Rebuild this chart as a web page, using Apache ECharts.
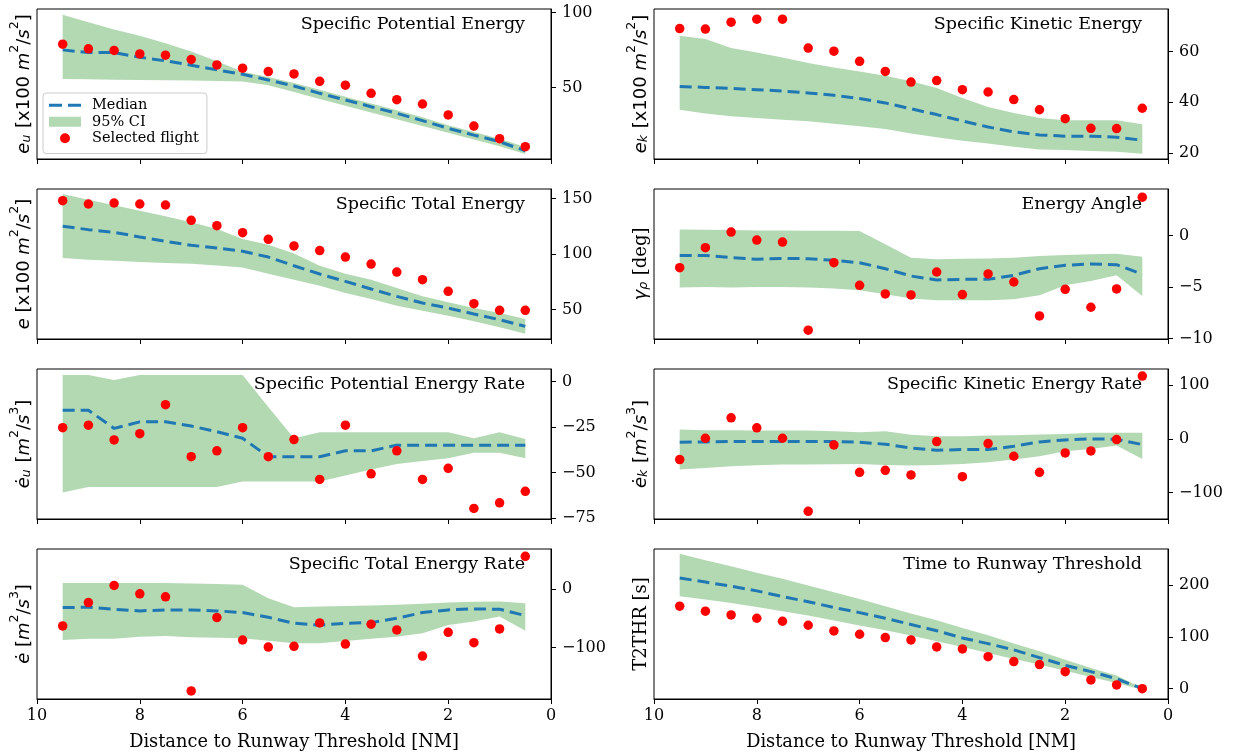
<!DOCTYPE html>
<html>
<head>
<meta charset="utf-8">
<script src="https://cdn.jsdelivr.net/npm/echarts@6/dist/echarts.min.js"></script>
<style>
  html, body { margin: 0; padding: 0; background: #fff; }
  #chart { width: 1240px; height: 756px; }
</style>
</head>
<body>
<div id="chart"></div>
<script>
// Distance to runway threshold [NM] at which every quantity is sampled
const distance = [9.5, 9, 8.5, 8, 7.5, 7, 6.5, 6, 5.5, 5, 4.5, 4, 3.5, 3, 2.5, 2, 1.5, 1, 0.5];

// Specific potential energy [x100 m^2/s^2]
const potMedian = [75.1, 73.3, 73.3, 70.2, 67.8, 64.9, 61.8, 58.9, 55.1, 51.1, 46.2, 41.8, 37.3, 32.9, 28.0, 22.9, 18.4, 14.0, 8.0];
const potLower  = [55.8, 55.6, 55.3, 55.1, 54.9, 54.7, 54.4, 54.0, 51.5, 47.0, 42.5, 38.0, 33.5, 29.0, 24.5, 20.0, 15.5, 11.0, 5.8];
const potUpper  = [98.4, 93.5, 88.7, 84.5, 79.5, 74.0, 67.5, 60.5, 57.0, 53.0, 48.5, 44.0, 39.5, 35.0, 30.2, 25.0, 20.5, 16.0, 10.5];
const potFlight = [78.9, 75.8, 74.7, 72.4, 71.6, 68.7, 65.1, 62.9, 60.7, 59.1, 54.2, 51.6, 46.2, 42.0, 39.1, 31.8, 24.4, 16.0, 10.7];
const potTicks  = [50, 100];

// Specific kinetic energy [x100 m^2/s^2]
const kinMedian = [46.2, 45.8, 45.4, 44.9, 44.4, 43.6, 42.7, 41.4, 39.7, 37.4, 35.1, 32.6, 30.2, 28.3, 27.1, 26.6, 26.6, 26.2, 25.0];
const kinLower  = [37.0, 35.5, 34.4, 33.8, 33.1, 32.5, 31.5, 30.5, 29.4, 27.6, 26.2, 24.8, 23.7, 22.4, 21.3, 21.1, 20.8, 20.5, 19.7];
const kinUpper  = [66.2, 64.9, 61.3, 59.6, 57.6, 55.4, 53.7, 52.1, 50.4, 48.2, 45.6, 41.6, 38.1, 35.7, 33.8, 32.9, 32.9, 32.9, 31.3];
const kinFlight = [69.0, 68.8, 71.5, 72.7, 72.7, 61.3, 60.1, 56.1, 52.1, 47.9, 48.5, 44.9, 44.0, 41.0, 37.0, 33.5, 29.7, 29.6, 37.6];
const kinTicks  = [20, 40, 60];

// Specific total energy [x100 m^2/s^2]
const totMedian = [125.1, 122.1, 119.7, 115.5, 111.6, 108.0, 105.6, 102.6, 97.4, 89.6, 82.1, 75.5, 68.6, 62.0, 56.0, 51.5, 46.1, 41.0, 35.0];
const totLower  = [96.5, 95.0, 94.1, 92.9, 92.0, 91.4, 89.9, 88.1, 82.4, 77.0, 71.6, 65.0, 59.6, 53.6, 49.1, 44.6, 39.5, 34.1, 28.4];
const totUpper  = [154.2, 149.1, 144.0, 139.2, 134.1, 128.7, 122.7, 113.7, 108.6, 100.5, 89.6, 82.4, 77.0, 69.5, 62.0, 56.6, 51.5, 47.0, 41.6];
const totFlight = [148.2, 145.2, 146.1, 145.2, 144.3, 130.5, 125.7, 119.4, 113.4, 107.4, 103.2, 97.4, 91.1, 83.9, 77.0, 66.5, 55.4, 49.4, 49.4];
const totTicks  = [50, 100, 150];

// Energy angle [deg]
const angMedian = [-1.94, -1.94, -2.16, -2.32, -2.23, -2.26, -2.42, -2.65, -3.23, -3.94, -4.32, -4.26, -4.26, -3.87, -3.23, -2.90, -2.77, -2.84, -3.77];
const angLower  = [-5.06, -5.0, -5.06, -5.0, -5.0, -5.06, -5.16, -5.32, -5.71, -6.13, -6.29, -6.29, -6.29, -6.19, -5.81, -4.84, -4.42, -3.87, -5.87];
const angUpper  = [0.58, 0.55, 0.52, 0.48, 0.48, 0.45, 0.45, 0.42, -0.87, -2.16, -2.32, -2.26, -2.23, -2.16, -2.0, -1.90, -1.84, -1.77, -2.06];
const angFlight = [-3.13, -1.19, 0.32, -0.45, -0.65, -9.19, -2.65, -4.84, -5.68, -5.77, -3.55, -5.74, -3.74, -4.52, -7.81, -5.23, -6.97, -5.19, 3.71];
const angTicks  = [-10, -5, 0];

// Specific potential energy rate [m^2/s^3]
const potRateMedian = [-15.7, -15.7, -25.7, -22.1, -22.1, -24.4, -27.5, -31.1, -41.2, -41.2, -41.2, -38.0, -38.0, -34.9, -34.9, -34.9, -34.9, -34.9, -34.9];
const potRateLower  = [-60.9, -57.9, -57.9, -57.9, -57.9, -57.9, -57.9, -54.8, -54.8, -54.8, -54.8, -51.5, -48.3, -45.2, -43.6, -42.1, -39.1, -39.1, -42.1];
const potRateUpper  = [3.6, 3.6, 0.9, 3.6, 3.6, 3.6, 3.6, 3.6, -13.9, -31.1, -27.8, -27.8, -27.8, -27.8, -27.8, -27.8, -31.1, -27.8, -31.5];
const potRateFlight = [-25.3, -23.9, -32.0, -28.6, -12.7, -41.2, -38.0, -25.3, -41.2, -31.8, -53.7, -23.9, -50.6, -38.0, -53.7, -47.6, -69.6, -66.5, -60.2];
const potRateTicks  = [-75, -50, -25, 0];

// Specific kinetic energy rate [m^2/s^3]
const kinRateMedian = [-6.2, -5.6, -5.0, -5.0, -5.0, -5.0, -5.0, -6.2, -9.9, -16.8, -21.1, -19.9, -19.9, -13.7, -5.6, -1.9, 0.0, -0.6, -10.6];
const kinRateLower  = [-57.1, -54.0, -50.9, -49.1, -47.8, -47.8, -47.2, -46.6, -48.4, -49.7, -48.4, -46.6, -43.5, -38.5, -32.3, -23.0, -18.6, -12.4, -37.3];
const kinRateUpper  = [17.4, 16.1, 16.1, 15.5, 15.5, 15.5, 14.3, 12.4, 14.3, 7.5, 5.0, 5.0, 6.2, 6.8, 8.1, 9.3, 11.2, 11.2, 11.2];
const kinRateFlight = [-38.5, 1.2, 39.1, 20.5, 1.2, -134.8, -11.2, -62.1, -58.4, -67.1, -5.0, -70.2, -8.7, -32.3, -62.1, -26.1, -22.4, -1.2, 116.8];
const kinRateTicks  = [-100, 0, 100];

// Specific total energy rate [m^2/s^3]
const totRateMedian = [-31.8, -31.3, -34.7, -37.5, -35.8, -35.8, -37.5, -40.3, -48.3, -58.5, -61.9, -58.5, -57.4, -50.0, -40.3, -35.8, -34.1, -34.7, -45.5];
const totRateLower  = [-86.9, -84.7, -84.7, -81.3, -80.1, -82.4, -83.0, -84.1, -88.1, -92.6, -92.6, -88.6, -84.7, -81.3, -75.6, -61.4, -55.7, -47.2, -71.0];
const totRateUpper  = [9.7, 9.7, 9.7, 9.7, 9.7, 9.1, 8.0, 6.8, -15.9, -31.3, -30.1, -29.0, -28.4, -27.3, -25.6, -23.3, -22.2, -21.6, -24.4];
const totRateFlight = [-63.1, -23.3, 5.7, -8.5, -13.6, -173.3, -48.9, -86.9, -98.9, -97.7, -58.0, -93.8, -60.2, -69.9, -114.2, -73.9, -91.5, -68.2, 55.1];
const totRateTicks  = [-100, 0];

// Time to runway threshold [s]
const timeMedian = [214, 206, 198, 189, 178, 168, 157, 147, 136, 124, 112, 98, 87, 75, 60, 45, 33, 19, 0];
const timeLower  = [178.7, 172.3, 165.8, 158.1, 149.7, 141.3, 131.6, 121.9, 112.9, 102.6, 91.6, 80.6, 69.0, 57.4, 46.5, 34.8, 22.6, 11.0, -1.9];
const timeUpper  = [260.6, 248.4, 236.8, 223.9, 212.3, 199.4, 186.5, 173.5, 159.4, 145.2, 132.3, 117.4, 103.2, 87.1, 72.3, 56.1, 40.0, 25.2, 1.3];
const timeFlight = [159.4, 149.7, 142.6, 136.1, 130.3, 122.6, 111.6, 105.2, 98.7, 94.2, 80.6, 76.8, 61.9, 52.3, 46.5, 32.9, 16.8, 7.1, 0];
const timeTicks  = [0, 100, 200];

const xTicks = [10, 8, 6, 4, 2, 0];
const xLabel = 'Distance to Runway Threshold [NM]';

// Panels in reading order (row by row, left column first)
const panels = [
  { title: 'Specific Potential Energy', ylabel: '{m|e}{sub|u}{r| [x100 }{m|m}{sup|2}{r|/}{m|s}{sup|2}{r|]}',
    median: potMedian, lower: potLower, upper: potUpper, flight: potFlight, ticks: potTicks, range: [2.5, 102.3] },
  { title: 'Specific Kinetic Energy', ylabel: '{m|e}{sub|k}{r| [x100 }{m|m}{sup|2}{r|/}{m|s}{sup|2}{r|]}',
    median: kinMedian, lower: kinLower, upper: kinUpper, flight: kinFlight, ticks: kinTicks, range: [17.6, 76.7] },
  { title: 'Specific Total Energy', ylabel: '{m|e}{r| [x100 }{m|m}{sup|2}{r|/}{m|s}{sup|2}{r|]}',
    median: totMedian, lower: totLower, upper: totUpper, flight: totFlight, ticks: totTicks, range: [23.6, 158.7] },
  { title: 'Energy Angle', ylabel: '{m|γ}{sub|ρ}{s| [deg]}',
    median: angMedian, lower: angLower, upper: angUpper, flight: angFlight, ticks: angTicks, range: [-10.05, 4.5] },
  { title: 'Specific Potential Energy Rate', ylabel: '{m|ė}{sub|u}{r| [}{m|m}{sup|2}{r|/}{m|s}{sup|3}{r|]}',
    median: potRateMedian, lower: potRateLower, upper: potRateUpper, flight: potRateFlight, ticks: potRateTicks, range: [-75.4, 6.9] },
  { title: 'Specific Kinetic Energy Rate', ylabel: '{m|ė}{sub|k}{r| [}{m|m}{sup|2}{r|/}{m|s}{sup|3}{r|]}',
    median: kinRateMedian, lower: kinRateLower, upper: kinRateUpper, flight: kinRateFlight, ticks: kinRateTicks, range: [-149, 130] },
  { title: 'Specific Total Energy Rate', ylabel: '{m|ė}{r| [}{m|m}{sup|2}{r|/}{m|s}{sup|3}{r|]}',
    median: totRateMedian, lower: totRateLower, upper: totRateUpper, flight: totRateFlight, ticks: totRateTicks, range: [-187, 67.5] },
  { title: 'Time to Runway Threshold', ylabel: '{s|T2THR [s]}',
    median: timeMedian, lower: timeLower, upper: timeUpper, flight: timeFlight, ticks: timeTicks, range: [-20, 270] }
];

// Layout of the 4 x 2 panel grid (pixels)
const CANVAS_W = 1240;
const COL_LEFT = [37, 654];
const ROW_TOP = [9, 189, 369, 549];
const PLOT_W = 514;
const PLOT_H = 150;
const YLABEL_X = [20, 637];

const SERIF = 'DejaVu Serif';
const SANS = 'DejaVu Sans';
const BLUE = '#1f77b4';
const BAND = 'rgba(0,128,0,0.3)';

const RICH = {
  m:   { fontFamily: SANS, fontStyle: 'italic', fontSize: 18, lineHeight: 27, verticalAlign: 'bottom' },
  r:   { fontFamily: SANS, fontSize: 18, lineHeight: 27, verticalAlign: 'bottom' },
  s:   { fontFamily: SERIF, fontSize: 18, lineHeight: 27, verticalAlign: 'bottom' },
  sub: { fontFamily: SANS, fontStyle: 'italic', fontSize: 12.5, lineHeight: 12.5, verticalAlign: 'bottom', padding: [0, 1, 0, 0] },
  sup: { fontFamily: SANS, fontSize: 12.5, lineHeight: 12.5, verticalAlign: 'bottom', padding: [0, 0, 12, 0] }
};

const minusSign = v => String(v).replace('-', '\u2212');
const pairs = ys => distance.map((x, k) => [x, ys[k]]);

const grids = [], xAxes = [], yAxes = [], series = [], titles = [], graphics = [];

panels.forEach((p, i) => {
  const row = Math.floor(i / 2), col = i % 2;
  const left = COL_LEFT[col], top = ROW_TOP[row];
  const isBottom = row === ROW_TOP.length - 1;

  grids.push({ left, top, width: PLOT_W, height: PLOT_H, show: true, borderColor: '#000', borderWidth: 1 });

  xAxes.push({
    type: 'value', gridIndex: i, min: 0, max: 10, interval: 2, inverse: true,
    axisLine: { show: true, onZero: false, lineStyle: { color: '#000', width: 1 } },
    axisTick: { show: true, length: 5, lineStyle: { color: '#000', width: 1 }, customValues: xTicks },
    axisLabel: { show: isBottom, margin: 9, color: '#000', fontFamily: SERIF, fontSize: 16, customValues: xTicks },
    splitLine: { show: false },
    name: isBottom ? xLabel : '', nameLocation: 'middle', nameGap: 34,
    nameTextStyle: { color: '#000', fontFamily: SERIF, fontSize: 17.8 }
  });

  yAxes.push({
    type: 'value', gridIndex: i, position: 'right', min: p.range[0], max: p.range[1],
    axisLine: { show: true, onZero: false, lineStyle: { color: '#000', width: 1 } },
    axisTick: { show: true, length: 5, lineStyle: { color: '#000', width: 1 }, customValues: p.ticks },
    axisLabel: { margin: 11, color: '#000', fontFamily: SERIF, fontSize: 16, customValues: p.ticks, formatter: minusSign },
    splitLine: { show: false }
  });

  // 95% confidence band: one polygon along the upper bound and back along the lower bound
  series.push({
    type: 'custom', name: '95% CI', xAxisIndex: i, yAxisIndex: i,
    data: distance.map((x, k) => [x, p.lower[k], p.upper[k]]),
    encode: { x: 0, y: [1, 2] },
    itemStyle: { color: BAND },
    silent: true, z: 1,
    renderItem: (params, api) => {
      if (params.dataIndex !== 0) return null;
      const upperPts = distance.map((x, k) => api.coord([x, p.upper[k]]));
      const lowerPts = distance.map((x, k) => api.coord([x, p.lower[k]])).reverse();
      return { type: 'polygon', shape: { points: upperPts.concat(lowerPts) }, style: { fill: BAND }, silent: true };
    }
  });
  series.push({
    type: 'line', name: 'Median', xAxisIndex: i, yAxisIndex: i,
    data: pairs(p.median), symbol: 'none',
    lineStyle: { color: BLUE, width: 3, type: [12, 6] }, itemStyle: { color: BLUE }, z: 3
  });
  series.push({
    type: 'scatter', name: 'Selected flight', xAxisIndex: i, yAxisIndex: i,
    data: pairs(p.flight), symbol: 'circle', symbolSize: 9.5,
    itemStyle: { color: '#ff0000', opacity: 1 }, z: 4
  });

  titles.push({
    text: p.title, right: CANVAS_W - (left + PLOT_W - 26), top: top + 6, padding: 0,
    textStyle: { fontFamily: SERIF, fontSize: 17.5, fontWeight: 'normal', color: '#000' }
  });

  graphics.push({
    type: 'text', x: YLABEL_X[col], y: top + PLOT_H / 2, rotation: Math.PI / 2,
    style: { text: p.ylabel, rich: RICH, fill: '#000', align: 'center', verticalAlign: 'middle' }
  });
});

const chart = echarts.init(document.getElementById('chart'), null, { renderer: 'canvas' });
chart.setOption({
  animation: false,
  backgroundColor: '#fff',
  title: titles,
  grid: grids,
  xAxis: xAxes,
  yAxis: yAxes,
  series: series,
  graphic: graphics,
  legend: {
    data: [
      { name: 'Median', icon: 'path://M0,0H13V3H0Z M19,0H32V3H19Z' },
      { name: '95% CI', icon: 'rect' },
      { name: 'Selected flight', icon: 'circle' }
    ],
    orient: 'vertical', left: 43, top: 93,
    itemWidth: 32, itemHeight: 10, itemGap: 0,
    padding: [4, 8, 7, 6],
    backgroundColor: 'rgba(255,255,255,0.8)', borderColor: '#cccccc', borderWidth: 1, borderRadius: 3,
    textStyle: { fontFamily: SERIF, fontSize: 14.5, color: '#000', lineHeight: 16.5, padding: [0, 0, 0, 6] },
    selectedMode: false
  }
});
</script>
</body>
</html>
